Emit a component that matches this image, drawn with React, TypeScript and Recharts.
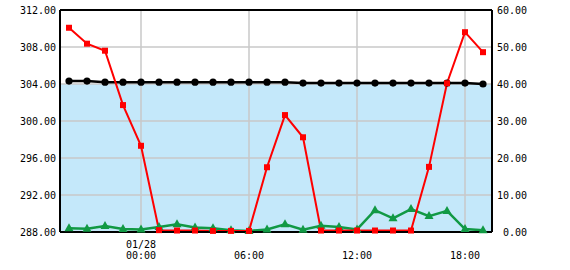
import { CartesianGrid, Line, LineChart, ReferenceLine, XAxis, YAxis } from "recharts";

const hours = [
  "20:00", "21:00", "22:00", "23:00", "00:00", "01:00", "02:00", "03:00",
  "04:00", "05:00", "06:00", "07:00", "08:00", "09:00", "10:00", "11:00",
  "12:00", "13:00", "14:00", "15:00", "16:00", "17:00", "18:00", "19:00",
];

// left axis
const level = [
  304.32, 304.32, 304.2, 304.2, 304.2, 304.2, 304.2, 304.2, 304.2, 304.2, 304.2, 304.2,
  304.2, 304.1, 304.1, 304.1, 304.1, 304.1, 304.1, 304.1, 304.1, 304.1, 304.1, 304.0,
];

// right axis
const inflow = [
  55.2, 50.9, 49.0, 34.3, 23.3, 0.5, 0.4, 0.4, 0.3, 0.3, 0.3, 17.5,
  31.6, 25.6, 0.4, 0.4, 0.4, 0.4, 0.4, 0.4, 17.6, 40.2, 54.0, 48.6,
];

const outflow = [
  1.0, 0.9, 1.6, 0.8, 0.7, 1.35, 2.1, 1.2, 1.0, 0.5, 0.3, 0.7,
  2.1, 0.6, 1.7, 1.35, 0.7, 5.9, 3.7, 6.2, 4.3, 5.7, 0.8, 0.5,
];

const leftTicks = [288, 292, 296, 300, 304, 308, 312];
const rightTicks = [0, 10, 20, 30, 40, 50, 60];
const xTicks = ["00:00", "06:00", "12:00", "18:00"];
const dayLabel = "01/28";

// stripe colours, top to bottom (below 304.00 is shaded)
const bandFill = ["#ffffff", "#ffffff", "#c4e8fa", "#c4e8fa", "#c4e8fa", "#c4e8fa"];

const data = hours.map((t, i) => ({
  t,
  level: level[i],
  inflow: inflow[i],
  outflow: outflow[i],
}));

const font = "'DejaVu Sans Mono', monospace";

function XTick(props: any) {
  const { x, y, payload } = props;
  const v = payload.value as string;
  return (
    <g>
      {v === "00:00" && (
        <text x={x} y={y + 16} textAnchor="middle" fontFamily={font} fontSize={10} fill="#000">
          {dayLabel}
        </text>
      )}
      <text x={x} y={y + 27} textAnchor="middle" fontFamily={font} fontSize={10} fill="#000">
        {v}
      </text>
    </g>
  );
}

function RightTick(props: any) {
  const { x, y, payload } = props;
  return (
    <text x={x + 35} y={y + 4} textAnchor="end" fontFamily={font} fontSize={10} fill="#000">
      {Number(payload.value).toFixed(2)}
    </text>
  );
}

function LeftTick(props: any) {
  const { x, y, payload } = props;
  return (
    <text x={x - 4} y={y + 4} textAnchor="end" fontFamily={font} fontSize={10} fill="#000">
      {Number(payload.value).toFixed(2)}
    </text>
  );
}

const circleDot = (p: any) => (
  <circle key={`c-${p.index}`} cx={p.cx} cy={p.cy} r={3.6} fill="#000" />
);

const squareDot = (p: any) => (
  <rect key={`s-${p.index}`} x={p.cx - 3} y={p.cy - 3} width={6} height={6} fill="#ff0000" />
);

const triangleDot = (p: any) => (
  <polygon
    key={`t-${p.index}`}
    points={`${p.cx - 4.5},${p.cy + 3} ${p.cx + 4.5},${p.cy + 3} ${p.cx},${p.cy - 5}`}
    fill="#119944"
  />
);

export default function App() {
  return (
    <div style={{ position: "absolute", left: 0, top: 0, width: 570, height: 270, background: "#fff" }}>
      <LineChart width={570} height={270} data={data} margin={{ top: 10, right: 0, bottom: 0, left: 0 }}>
        <CartesianGrid
          yAxisId="left"
          stroke="#c8c8c8"
          strokeWidth={1.5}
          horizontalFill={bandFill}
          fillOpacity={1}
        />
        <XAxis
          dataKey="t"
          ticks={xTicks}
          interval={0}
          height={38}
          padding={{ left: 9, right: 9 }}
          tick={<XTick />}
          tickLine={false}
          tickSize={0}
          tickMargin={0}
          axisLine={{ stroke: "#000", strokeWidth: 2 }}
        />
        <YAxis
          yAxisId="left"
          domain={[288, 312]}
          ticks={leftTicks}
          width={60}
          tick={<LeftTick />}
          tickLine={false}
          tickSize={0}
          tickMargin={0}
          axisLine={{ stroke: "#000", strokeWidth: 2 }}
        />
        <YAxis
          yAxisId="right"
          orientation="right"
          domain={[0, 60]}
          ticks={rightTicks}
          width={78}
          tick={<RightTick />}
          tickLine={false}
          tickSize={0}
          tickMargin={0}
          axisLine={{ stroke: "#000", strokeWidth: 2 }}
        />
        <ReferenceLine yAxisId="left" y={312} stroke="#000" strokeWidth={2} />
        <Line
          yAxisId="left"
          dataKey="level"
          stroke="#000"
          strokeWidth={2.5}
          dot={circleDot}
          activeDot={false}
          isAnimationActive={false}
        />
        <Line
          yAxisId="right"
          dataKey="outflow"
          stroke="#119944"
          strokeWidth={2.5}
          dot={triangleDot}
          activeDot={false}
          isAnimationActive={false}
        />
        <Line
          yAxisId="right"
          dataKey="inflow"
          stroke="#ff0000"
          strokeWidth={2}
          dot={squareDot}
          activeDot={false}
          isAnimationActive={false}
        />
      </LineChart>
    </div>
  );
}
